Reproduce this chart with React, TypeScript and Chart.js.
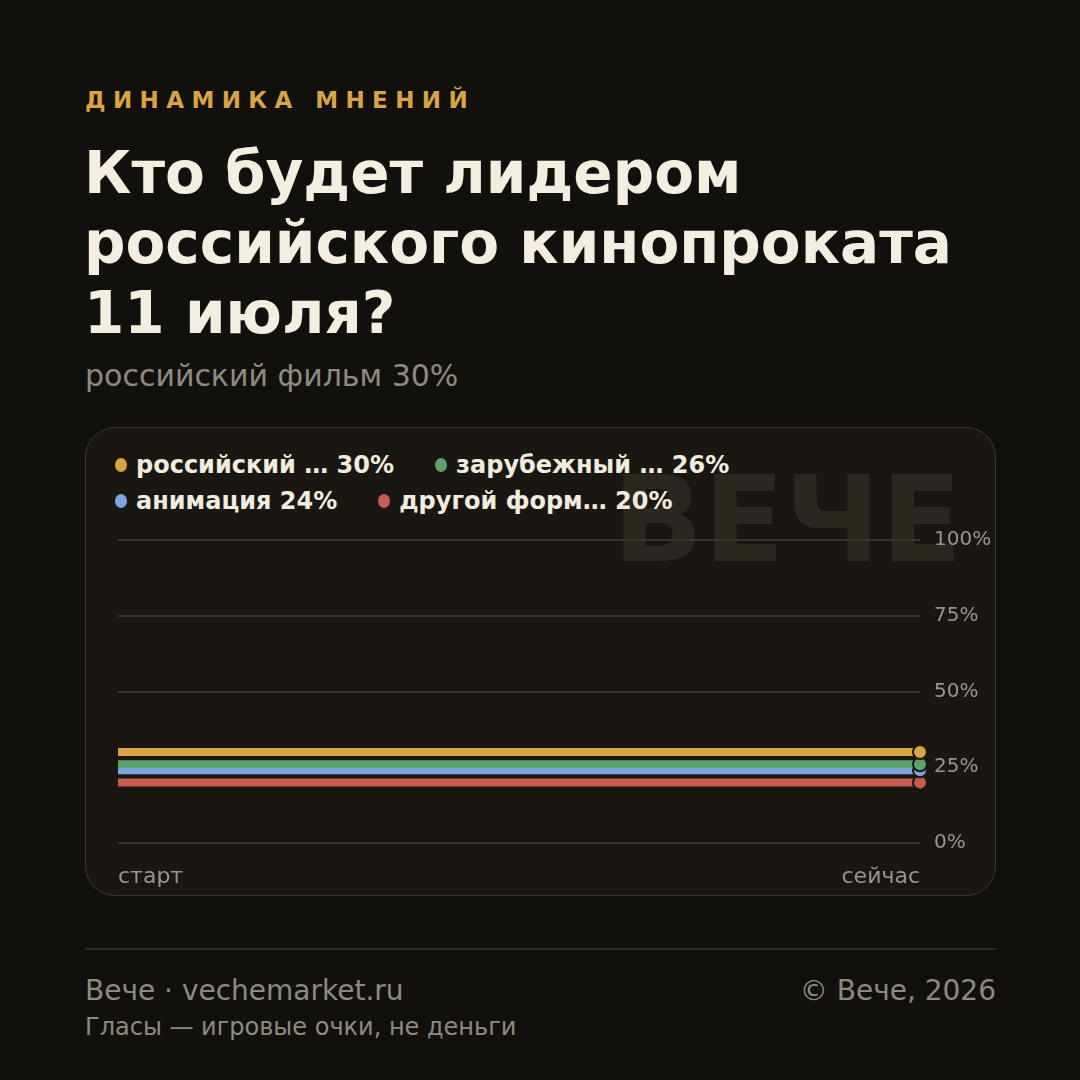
import React, { useEffect, useRef } from "react";
import { Chart, registerables } from "chart.js";

Chart.register(...registerables);

const xLabels = ["старт", "сейчас"];
const seriesNames = ["российский … 30%", "зарубежный … 26%", "анимация 24%", "другой форм… 20%"];
const seriesValues = [
  [30, 30],
  [26, 26],
  [24, 24],
  [20, 20],
];
const seriesColors = ["#d9a441", "#5aa46c", "#7fa3e0", "#c65b4f"];
const yTicks = [0, 25, 50, 75, 100];

const FONT = "'DejaVu Sans', sans-serif";
const CARD_BG = "#1a1713";

export default function App() {
  const ref = useRef<HTMLCanvasElement | null>(null);

  useEffect(() => {
    if (!ref.current) return;
    const chart = new Chart(ref.current, {
      type: "line",
      data: {
        labels: xLabels,
        datasets: seriesNames.map((name, i) => ({
          label: name,
          data: seriesValues[i],
          borderColor: seriesColors[i],
          backgroundColor: seriesColors[i],
          borderWidth: 8,
          borderCapStyle: "butt",
          pointRadius: [0, 7],
          pointHoverRadius: [0, 7],
          pointBackgroundColor: seriesColors[i],
          pointBorderColor: CARD_BG,
          pointBorderWidth: 2,
          tension: 0,
          fill: false,
        })),
      },
      options: {
        animation: false,
        responsive: false,
        maintainAspectRatio: false,
        layout: { padding: { left: 33, right: 0, top: 19, bottom: 0 } },
        plugins: {
          legend: { display: false },
          tooltip: { enabled: false },
        },
        scales: {
          x: {
            type: "category",
            offset: false,
            grid: { display: false, drawTicks: false },
            border: { display: false },
            ticks: {
              align: "inner",
              padding: 21,
              color: "#9a958a",
              font: { family: FONT, size: 22 },
              maxRotation: 0,
              autoSkip: false,
            },
            afterFit: (s: any) => {
              s.height = 53;
            },
          },
          y: {
            position: "right",
            min: 0,
            max: 100,
            afterBuildTicks: (s: any) => {
              s.ticks = yTicks.map((v) => ({ value: v }));
            },
            grid: { color: "#38332b", lineWidth: 2, drawTicks: false },
            border: { display: false },
            ticks: {
              padding: 14,
              color: "#9a958a",
              font: { family: FONT, size: 20 },
              callback: (v: any) => v + "%",
            },
            afterFit: (s: any) => {
              s.width = 76;
            },
          },
        },
      },
    });
    return () => chart.destroy();
  }, []);

  return (
    <div
      style={{
        position: "fixed",
        left: 0,
        top: 0,
        width: 1080,
        height: 1080,
        background: "#12100d",
        fontFamily: FONT,
        overflow: "hidden",
      }}
    >
      <div
        style={{
          position: "absolute",
          left: 85,
          top: 86,
          color: "#d9a441",
          fontWeight: 700,
          fontSize: 23,
          letterSpacing: 7.4,
          lineHeight: "28px",
        }}
      >
        ДИНАМИКА МНЕНИЙ
      </div>
      <div
        style={{
          position: "absolute",
          left: 84,
          top: 138,
          color: "#f3eedf",
          fontWeight: 700,
          fontSize: 58,
          lineHeight: "70px",
          width: 950,
        }}
      >
        Кто будет лидером
        <br />
        российского кинопроката
        <br />
        11 июля?
      </div>
      <div
        style={{
          position: "absolute",
          left: 85,
          top: 358,
          color: "#8f8a80",
          fontSize: 30,
          lineHeight: "36px",
        }}
      >
        российский фильм 30%
      </div>

      <div
        style={{
          position: "absolute",
          left: 85,
          top: 427,
          width: 909,
          height: 467,
          background: CARD_BG,
          border: "1px solid #3a352d",
          borderRadius: 30,
          overflow: "hidden",
        }}
      >
        <div
          style={{
            position: "absolute",
            right: 33,
            top: 12,
            fontSize: 119,
            fontWeight: 700,
            color: "#2a2620",
            lineHeight: "160px",
          }}
        >
          ВЕЧЕ
        </div>
        <div
          style={{
            position: "absolute",
            left: 29,
            top: 19,
            width: 802,
            display: "flex",
            flexWrap: "wrap",
            columnGap: 41,
            rowGap: 0,
          }}
        >
          {seriesNames.map((n, i) => (
            <div
              key={n}
              style={{
                display: "flex",
                alignItems: "center",
                color: "#f2ecdf",
                fontWeight: 700,
                fontSize: 24,
                lineHeight: "36px",
              }}
            >
              <span
                style={{
                  display: "inline-block",
                  width: 12,
                  height: 14,
                  borderRadius: "50%",
                  background: seriesColors[i],
                  marginRight: 9,
                }}
              />
              {n}
            </div>
          ))}
        </div>
        <canvas
          ref={ref}
          width={911}
          height={382}
          style={{ position: "absolute", left: -1, top: 86, width: 911, height: 382 }}
        />
      </div>

      <div
        style={{
          position: "absolute",
          left: 85,
          top: 948,
          width: 911,
          height: 2,
          background: "#2f2b25",
        }}
      />
      <div
        style={{
          position: "absolute",
          left: 85,
          top: 974,
          color: "#8f8a80",
          fontSize: 28,
          lineHeight: "34px",
        }}
      >
        Вече · vechemarket.ru
      </div>
      <div
        style={{
          position: "absolute",
          right: 84,
          top: 974,
          color: "#8f8a80",
          fontSize: 28,
          lineHeight: "34px",
        }}
      >
        © Вече, 2026
      </div>
      <div
        style={{
          position: "absolute",
          left: 85,
          top: 1012,
          color: "#8f8a80",
          fontSize: 24,
          lineHeight: "30px",
        }}
      >
        Гласы — игровые очки, не деньги
      </div>
    </div>
  );
}
